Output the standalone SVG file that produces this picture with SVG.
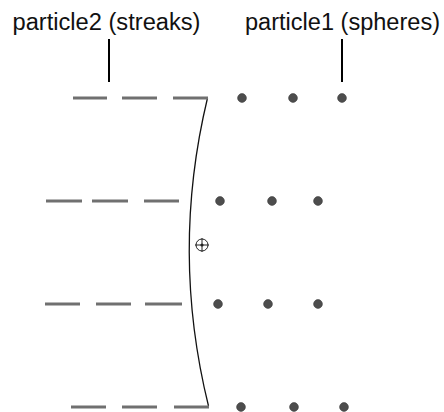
<svg xmlns="http://www.w3.org/2000/svg" width="444" height="412" viewBox="0 0 444 412">
<style>
.lbl{font-family:"Liberation Sans",Arial,sans-serif;font-size:23.3px;fill:#111}
.lead{stroke:#000;stroke-width:2;fill:none}
.streak{stroke:#707070;stroke-width:3;fill:none}
.dot{fill:#4d4d4d;stroke:#3a3a3a;stroke-width:0.6}
.curve{stroke:#111;stroke-width:1.3;fill:none}
</style>
<rect width="444" height="412" fill="#fff"/>
<g id="label-streaks"><text class="lbl" x="12.5" y="30" textLength="188" lengthAdjust="spacingAndGlyphs">particle2 (streaks)</text></g>
<g id="label-spheres"><text class="lbl" x="245" y="30" textLength="195" lengthAdjust="spacingAndGlyphs">particle1 (spheres)</text></g>
<g id="connectors">
<line class="lead" x1="109" y1="39" x2="109" y2="82"/>
<line class="lead" x1="342" y1="39" x2="342" y2="82"/>
</g>
<g id="emitter-curve"><path class="curve" d="M207.5,98 Q170.5,252 208.5,406"/></g>
<g id="particle2-streaks">
<path class="streak" d="M73,98H107M122,98H157M173,98H208"/>
<path class="streak" d="M46,201H82M92,201H128M144,201H179"/>
<path class="streak" d="M45,304H80M96,304H131M145,304H182"/>
<path class="streak" d="M71,407H106M122,407H157M174,407H209"/>
</g>
<g id="particle1-spheres">
<circle class="dot" cx="242" cy="98" r="4.4"/><circle class="dot" cx="293" cy="98" r="4.4"/><circle class="dot" cx="342" cy="98" r="4.4"/>
<circle class="dot" cx="220" cy="201" r="4.4"/><circle class="dot" cx="272" cy="201" r="4.4"/><circle class="dot" cx="318" cy="201" r="4.4"/>
<circle class="dot" cx="218" cy="304" r="4.4"/><circle class="dot" cx="268" cy="304" r="4.4"/><circle class="dot" cx="318" cy="304" r="4.4"/>
<circle class="dot" cx="241" cy="407" r="4.4"/><circle class="dot" cx="294" cy="407" r="4.4"/><circle class="dot" cx="344" cy="407" r="4.4"/>
</g>
<g id="pivot">
<circle cx="202" cy="245" r="6" fill="none" stroke="#222" stroke-width="1"/>
<path d="M195,245H209M202,238V252" stroke="#222" stroke-width="1"/>
<circle cx="202" cy="245" r="1.6" fill="#222"/>
</g>
</svg>
